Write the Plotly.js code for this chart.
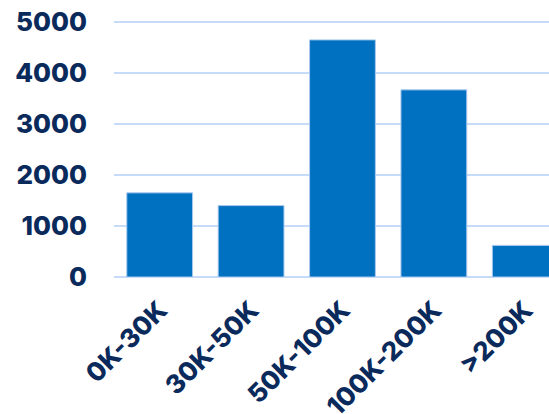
<!DOCTYPE html>
<html>
<head>
<meta charset="utf-8">
<script src="https://cdn.plot.ly/plotly-3.0.1.min.js"></script>
<style>html,body{margin:0;padding:0;overflow:hidden;background:#fff;}</style>
</head>
<body>
<div id="chart" style="width:549px;height:414px;"></div>
<script>
var categories = ["0K-30K", "30K-50K", "50K-100K", "100K-200K", ">200K"];
var counts = [1650, 1400, 4650, 3670, 620];
var yTicks = [0, 1000, 2000, 3000, 4000, 5000];

var navy = "#0b2a5c";
var trace = {
  type: "bar",
  x: categories,
  y: counts,
  marker: {color: "#0070c0", line: {color: "#a9c9ee", width: 1}},
  hoverinfo: "x+y"
};
var layout = {
  width: 549,
  height: 414,
  margin: {l: 114, r: 0, t: 20, b: 137, pad: 0},
  paper_bgcolor: "#ffffff",
  plot_bgcolor: "#ffffff",
  bargap: 0.28,
  showlegend: false,
  font: {family: "Inter, Liberation Sans, Arial, sans-serif", color: navy},
  xaxis: {
    type: "category",
    range: [-0.5, 4.26],
    showgrid: false,
    zeroline: false,
    showline: false,
    ticks: "",
    tickangle: -45,
    ticklabelstandoff: 12,
    tickfont: {size: 26, color: navy, weight: 800},
    automargin: false
  },
  yaxis: {
    range: [0, 5040],
    tickvals: yTicks,
    showgrid: true,
    gridcolor: "#c6dbf8",
    gridwidth: 2,
    zeroline: true,
    zerolinecolor: "#c6dbf8",
    zerolinewidth: 2,
    showline: false,
    ticks: "",
    ticklabelstandoff: 26,
    tickfont: {size: 26, color: navy, weight: 800},
    automargin: false
  }
};
Plotly.newPlot("chart", [trace], layout, {displayModeBar: false, staticPlot: true});
</script>
</body>
</html>
